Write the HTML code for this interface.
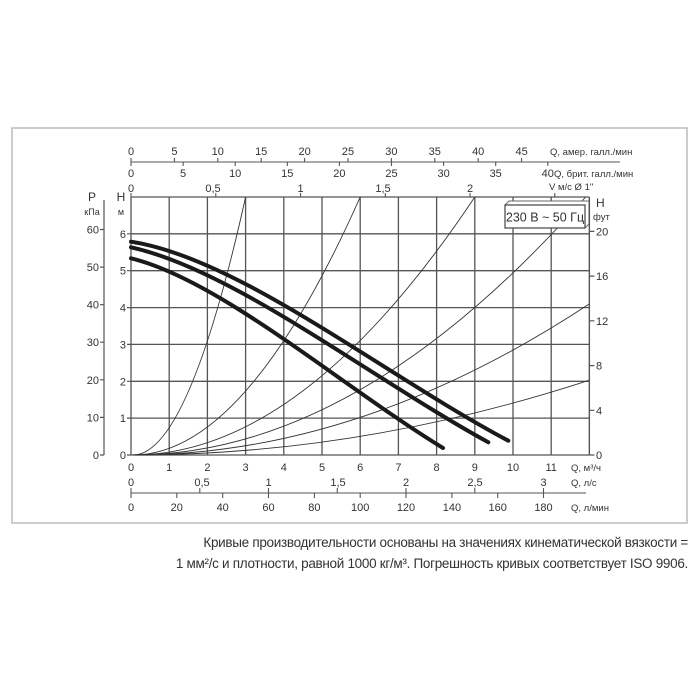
<!DOCTYPE html>
<html><head><meta charset="utf-8"><style>
html,body{margin:0;padding:0;background:#fff;width:700px;height:700px;overflow:hidden}
svg text{font-family:"Liberation Sans",sans-serif;fill:#333}
.cap{position:absolute;right:12px;top:532px;text-align:right;font-family:"Liberation Sans",sans-serif;font-size:13.5px;line-height:21px;color:#333;letter-spacing:-0.3px}
</style></head><body>
<svg width="700" height="700" viewBox="0 0 700 700" style="position:absolute;left:0;top:0">
<rect x="12" y="128" width="675" height="395" fill="none" stroke="#bbb" stroke-width="1.5"/>
<g stroke="#555" stroke-width="1.3" fill="none">
<path d="M131 197V455M169.2 197V455M207.4 197V455M245.6 197V455M283.8 197V455M322 197V455M360.2 197V455M398.4 197V455M436.6 197V455M474.8 197V455M513 197V455M551.2 197V455M589.4 197V455"/>
<path d="M131 197H589.4M131 233.8H589.4M131 270.7H589.4M131 307.6H589.4M131 344.4H589.4M131 381.3H589.4M131 418.1H589.4M131 455H589.4"/>
</g>
<g stroke="#333" stroke-width="0.9" fill="none">
<path d="M133 455Q188.3 455 245.6 197"/>
<path d="M133 455Q245.6 455 360.2 197"/>
<path d="M133 455Q302.9 455 474.8 197"/>
<path d="M133 455Q358.3 455 585.6 197"/>
<path d="M133 455Q360.2 455 589.4 303.9"/>
<path d="M133 455Q360.2 455 589.4 380.2"/>
</g>
<g stroke="#1a1a1a" stroke-width="4" fill="none" stroke-linecap="round">
<path d="M131 258.3C220 280 340 385 443 448"/>
<path d="M131 247.3C232.9 269.6 370.3 377.5 488.3 442.3"/>
<path d="M131 241.7C238.6 258 383.7 374.6 508.3 440.7"/>
</g>
<path d="M505 205l4 -4h80v23l-4 4" fill="#fff" stroke="#666" stroke-width="1"/>
<rect x="505" y="205" width="80" height="23" fill="#fff" stroke="#444" stroke-width="1.2"/>
<text x="545" y="221.5" font-size="12.5" text-anchor="middle">230 В ~ 50 Гц</text>
<g stroke="#555" stroke-width="1.2">
<path d="M104 200V455"/>
<path d="M100 229.5h4M100 267.1h4M100 304.7h4M100 342.2h4M100 379.8h4M100 417.4h4M100 455h4"/>
<path d="M589.4 197V455"/>
<path d="M589.4 455h5M589.4 410.3h5M589.4 365.6h5M589.4 320.8h5M589.4 276.1h5M589.4 231.4h5"/>
<path d="M127 233.8h4M127 270.7h4M127 307.6h4M127 344.4h4M127 381.3h4M127 418.1h4M127 455h4"/>
</g>
<g font-size="11" text-anchor="end">
<text x="99" y="233.5">60</text><text x="99" y="271">50</text><text x="99" y="308.7">40</text><text x="99" y="346.2">30</text><text x="99" y="383.8">20</text><text x="99" y="421.4">10</text><text x="99" y="459">0</text>
<text x="126" y="237.8">6</text><text x="126" y="274.7">5</text><text x="126" y="311.6">4</text><text x="126" y="348.4">3</text><text x="126" y="385.3">2</text><text x="126" y="422.1">1</text><text x="126" y="459">0</text>
</g>
<text x="92" y="201" font-size="12" text-anchor="middle">P</text>
<text x="92" y="215" font-size="9" text-anchor="middle">кПа</text>
<text x="121" y="201" font-size="12" text-anchor="middle">H</text>
<text x="121" y="215" font-size="9" text-anchor="middle">м</text>
<text x="596" y="207" font-size="12">H</text>
<text x="593" y="220" font-size="9.5">фут</text>
<g font-size="11">
<text x="596" y="459">0</text><text x="596" y="414.3">4</text><text x="596" y="369.6">8</text><text x="596" y="324.8">12</text><text x="596" y="280.1">16</text><text x="596" y="235.4">20</text>
</g>
<g stroke="#555" stroke-width="1.1">
<path d="M131 162H620"/>
<path d="M131 158v4M174.4 158v4M217.8 158v4M261.2 158v4M304.6 158v4M348 158v4M391.4 158v4M434.8 158v4M478.2 158v4M521.6 158v4"/>
<path d="M131 162v4M183.1 162v4M235.2 162v4M287.3 162v4M339.4 162v4M391.5 162v4M443.6 162v4M495.7 162v4M547.8 162v4"/>
<path d="M131 193v4M215.8 193v4M300.5 193v4M385.3 193v4M470 193v4M554.8 193v4"/>
</g>
<g font-size="11" text-anchor="middle">
<text x="131" y="155">0</text><text x="174.4" y="155">5</text><text x="217.8" y="155">10</text><text x="261.2" y="155">15</text><text x="304.6" y="155">20</text><text x="348" y="155">25</text><text x="391.4" y="155">30</text><text x="434.8" y="155">35</text><text x="478.2" y="155">40</text><text x="521.6" y="155">45</text>
<text x="131" y="177">0</text><text x="183.1" y="177">5</text><text x="235.2" y="177">10</text><text x="287.3" y="177">15</text><text x="339.4" y="177">20</text><text x="391.5" y="177">25</text><text x="443.6" y="177">30</text><text x="495.7" y="177">35</text><text x="547.8" y="177">40</text>
<text x="131" y="192">0</text><text x="213" y="192">0,5</text><text x="300.5" y="192">1</text><text x="383" y="192">1,5</text><text x="470" y="192">2</text>
</g>
<g font-size="9.5">
<text x="550" y="155">Q, амер. галл./мин</text>
<text x="554" y="177">Q, брит. галл./мин</text>
<text x="549" y="190">V м/с Ø 1"</text>
</g>
<g font-size="11" text-anchor="middle">
<text x="131" y="471">0</text><text x="169.2" y="471">1</text><text x="207.4" y="471">2</text><text x="245.6" y="471">3</text><text x="283.8" y="471">4</text><text x="322" y="471">5</text><text x="360.2" y="471">6</text><text x="398.4" y="471">7</text><text x="436.6" y="471">8</text><text x="474.8" y="471">9</text><text x="513" y="471">10</text><text x="551.2" y="471">11</text>
<text x="131" y="486">0</text><text x="202" y="486">0,5</text><text x="268.5" y="486">1</text><text x="338" y="486">1,5</text><text x="406" y="486">2</text><text x="475" y="486">2,5</text><text x="543.5" y="486">3</text>
<text x="131" y="511">0</text><text x="176.8" y="511">20</text><text x="222.7" y="511">40</text><text x="268.5" y="511">60</text><text x="314.4" y="511">80</text><text x="360.2" y="511">100</text><text x="406" y="511">120</text><text x="451.9" y="511">140</text><text x="497.7" y="511">160</text><text x="543.5" y="511">180</text>
</g>
<g stroke="#555" stroke-width="1.1">
<path d="M131 493H586"/>
<path d="M131 488v5M199.8 488v5M268.5 488v5M337.3 488v5M406 488v5M474.8 488v5M543.5 488v5"/>
<path d="M131 493v5M176.8 493v5M222.7 493v5M268.5 493v5M314.4 493v5M360.2 493v5M406 493v5M451.9 493v5M497.7 493v5M543.5 493v5"/>
</g>
<g font-size="9.5">
<text x="571" y="471">Q, м³/ч</text>
<text x="571" y="486">Q, л/с</text>
<text x="571" y="511">Q, л/мин</text>
</g>
</svg>
<div class="cap">Кривые производительности основаны на значениях кинематической вязкости =<br>1 мм²/с и плотности, равной 1000 кг/м³. Погрешность кривых соответствует ISO 9906.</div>
</body></html>
